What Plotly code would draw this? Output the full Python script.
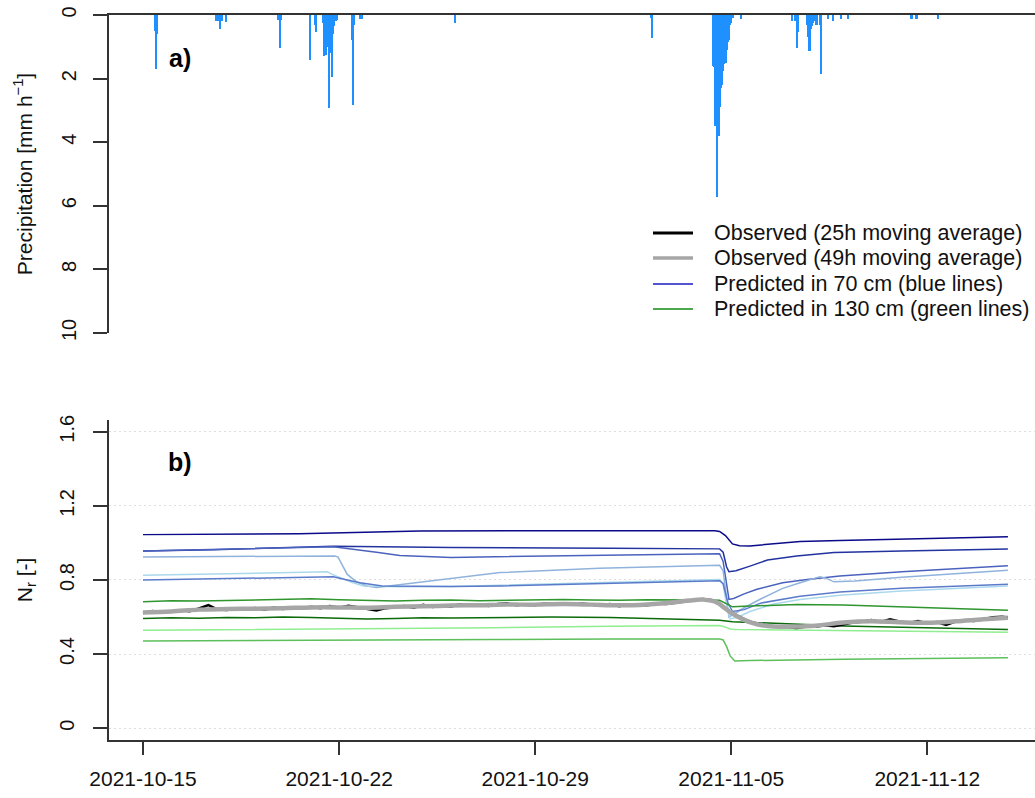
import pandas as pd
import plotly.graph_objects as go

T0 = pd.Timestamp("2021-10-15 00:00")

# ---------------- data (hours since 2021-10-15 00:00) ----------------
precip_hours = [10, 11, 12, 63, 64, 66, 68, 71, 116, 117, 118, 143, 147, 148,
                154, 155, 156, 157, 158, 159, 160, 161, 162, 163, 164, 165, 166,
                179, 180, 181, 186, 188, 267, 435, 436,
                488, 489, 490, 491, 492, 493, 494, 495, 496, 497, 498, 499, 500,
                501, 502, 503, 504, 505, 512, 556, 559, 560, 561,
                569, 570, 571, 572, 573, 574, 575, 576, 577, 580, 581,
                587, 591, 598, 604, 658, 659, 662, 663, 681]
precip_mm = [0.5, 1.7, 0.6, 0.2, 0.2, 0.43, 0.2, 0.22, 0.15, 1.03, 0.15, 1.43, 0.3, 0.55,
             0.25, 1.3, 1.0, 1.25, 1.0, 2.93, 1.2, 0.8, 1.94, 0.6, 0.35, 0.2, 0.15,
             0.8, 2.84, 0.3, 0.12, 0.12, 0.25, 0.1, 0.72,
             1.6, 1.65, 3.5, 3.5, 5.72, 3.8, 2.9, 2.3, 2.2, 1.75, 1.55, 1.5, 1.1,
             0.85, 0.8, 0.3, 0.25, 0.1, 0.12, 0.2, 0.2, 1.04, 0.52,
             0.3, 0.7, 1.14, 0.45, 0.35, 0.25, 0.2, 0.2, 0.3, 0.3, 1.84,
             0.12, 0.2, 0.12, 0.12, 0.12, 0.12, 0.12, 0.12, 0.12]

obs25_hours = list(range(0, 737, 8)) + [741]
obs25_vals = [0.622, 0.632, 0.626, 0.628, 0.637, 0.631, 0.646, 0.664, 0.640,
              0.638, 0.647, 0.641, 0.649, 0.640, 0.651, 0.644, 0.653, 0.646,
              0.656, 0.648, 0.659, 0.650, 0.661, 0.652, 0.646, 0.635, 0.648,
              0.653, 0.660, 0.650, 0.666, 0.654, 0.661, 0.657, 0.669, 0.662,
              0.667, 0.660, 0.671, 0.673, 0.664, 0.669, 0.664, 0.673, 0.668,
              0.675, 0.666, 0.673, 0.668, 0.661, 0.670, 0.659, 0.667, 0.662,
              0.664, 0.673, 0.670, 0.677, 0.685, 0.689, 0.697, 0.691, 0.662,
              0.624, 0.598, 0.574, 0.563, 0.553, 0.548, 0.545, 0.541, 0.549,
              0.547, 0.555, 0.550, 0.560, 0.571, 0.575, 0.584, 0.573, 0.588,
              0.576, 0.568, 0.579, 0.565, 0.573, 0.557, 0.575, 0.583, 0.578,
              0.590, 0.599, 0.602, 0.597]

obs49_hours = [0, 24, 48, 72, 96, 120, 144, 168, 192, 216, 240, 264, 288, 312, 336,
               360, 384, 408, 432, 456, 468, 480, 492, 498, 504, 510, 516, 522, 528,
               540, 552, 576, 600, 624, 648, 672, 696, 720, 741]
obs49_vals = [0.625, 0.630, 0.640, 0.643, 0.645, 0.648, 0.652, 0.652, 0.650, 0.655,
              0.658, 0.662, 0.664, 0.667, 0.667, 0.670, 0.667, 0.663, 0.668, 0.680,
              0.689, 0.694, 0.678, 0.650, 0.622, 0.600, 0.582, 0.568, 0.558,
              0.549, 0.547, 0.553, 0.570, 0.577, 0.572, 0.569, 0.577, 0.588, 0.596]

# predicted in 70 cm (blue lines)
b1_h = [0, 134, 237, 400, 490, 494, 499, 505, 511, 520, 563, 597, 650, 700, 741]
b1_v = [1.045, 1.050, 1.065, 1.066, 1.066, 1.062, 1.040, 0.995, 0.985, 0.984, 1.008, 1.013, 1.020, 1.027, 1.034]
b2_h = [0, 60, 163, 264, 400, 494, 497, 500, 502, 508, 520, 535, 560, 592, 650, 741]
b2_v = [0.957, 0.963, 0.982, 0.975, 0.972, 0.968, 0.950, 0.870, 0.845, 0.850, 0.875, 0.908, 0.930, 0.948, 0.956, 0.967]
b3_h = [0, 163, 200, 220, 264, 306, 391, 494, 497, 500, 502, 506, 515, 526, 548, 569, 597, 650, 741]
b3_v = [0.957, 0.980, 0.950, 0.932, 0.922, 0.925, 0.935, 0.942, 0.900, 0.760, 0.695, 0.700, 0.725, 0.750, 0.785, 0.803, 0.822, 0.845, 0.877]
b4_h = [0, 100, 164, 167, 170, 175, 183, 192, 200, 220, 264, 306, 391, 470, 494, 497, 500, 502,
        506, 515, 530, 548, 563, 580, 585, 592, 610, 650, 741]
b4_v = [0.924, 0.926, 0.930, 0.925, 0.890, 0.830, 0.790, 0.768, 0.760, 0.775, 0.810, 0.840, 0.864, 0.877, 0.879, 0.850, 0.700, 0.600,
        0.615, 0.650, 0.700, 0.755, 0.785, 0.818, 0.810, 0.790, 0.795, 0.815, 0.853]
b5_h = [0, 100, 158, 162, 168, 180, 189, 220, 264, 306, 391, 470, 494, 497, 500, 503, 510, 520, 540, 563, 597, 650, 741]
b5_v = [0.826, 0.835, 0.844, 0.830, 0.815, 0.785, 0.768, 0.763, 0.765, 0.772, 0.785, 0.800, 0.802, 0.780, 0.660, 0.590, 0.600, 0.630, 0.670, 0.695, 0.718, 0.740, 0.768]
b6_h = [0, 100, 163, 175, 186, 205, 264, 306, 391, 470, 494, 497, 501, 505, 515, 529, 563, 597, 650, 741]
b6_v = [0.800, 0.808, 0.817, 0.800, 0.785, 0.768, 0.765, 0.768, 0.780, 0.793, 0.796, 0.780, 0.680, 0.630, 0.640, 0.675, 0.712, 0.735, 0.755, 0.777]

# predicted in 130 cm (green lines)
g1_h = [0, 24, 48, 72, 96, 120, 144, 168, 192, 216, 240, 264, 288, 312, 336, 360, 384, 408, 432,
        456, 480, 494, 500, 505, 515, 530, 560, 600, 650, 700, 741]
g1_v = [0.683, 0.688, 0.686, 0.690, 0.692, 0.697, 0.699, 0.693, 0.688, 0.686, 0.690, 0.692, 0.688, 0.690, 0.693, 0.695, 0.692, 0.690, 0.693,
        0.694, 0.692, 0.690, 0.670, 0.655, 0.658, 0.662, 0.668, 0.665, 0.655, 0.645, 0.636]
g2_h = [0, 24, 48, 72, 96, 120, 144, 168, 192, 216, 240, 264, 300, 350, 400, 450, 494, 505, 530, 560, 600, 650, 700, 741]
g2_v = [0.592, 0.596, 0.594, 0.598, 0.596, 0.600, 0.598, 0.593, 0.590, 0.592, 0.596, 0.595, 0.598, 0.600, 0.598, 0.590, 0.582, 0.575, 0.568, 0.560, 0.552, 0.545, 0.538, 0.533]
g3_h = [0, 100, 200, 300, 400, 494, 498, 503, 510, 550, 650, 741]
g3_v = [0.529, 0.533, 0.538, 0.542, 0.550, 0.554, 0.548, 0.535, 0.532, 0.530, 0.524, 0.518]
g4_h = [0, 100, 200, 300, 400, 494, 497, 500, 503, 507, 520, 600, 741]
g4_v = [0.470, 0.474, 0.478, 0.479, 0.481, 0.482, 0.476, 0.440, 0.390, 0.362, 0.365, 0.372, 0.380]

tick_hours = [0, 168, 336, 504, 672]
tick_labels = ["2021-10-15", "2021-10-22", "2021-10-29", "2021-11-05", "2021-11-12"]

legend_names = ["Observed (25h moving average)", "Observed (49h moving average)",
                "Predicted in 70 cm (blue lines)", "Predicted in 130 cm (green lines)"]


def ts(hours):
    return [T0 + pd.Timedelta(hours=h) for h in hours]


# plot area in page pixels: x 109..1035, y 15..740
PX_L, PX_R, PX_T, PX_B = 109.0, 1035.0, 15.0, 740.0


def px(x):
    return (x - PX_L) / (PX_R - PX_L)


def py(y):
    return (PX_B - y) / (PX_B - PX_T)


FONT = "Liberation Sans, Arial, Helvetica, sans-serif"
AX = "#333333"

fig = go.Figure()

# precipitation bars (top panel)
fig.add_trace(go.Bar(x=ts(precip_hours), y=precip_mm, width=1.8 * 3600 * 1000,
                     marker=dict(color="#1E90FF", line=dict(width=0)),
                     xaxis="x2", yaxis="y2", showlegend=False, hoverinfo="x+y"))

blue_series = [(b1_h, b1_v, "#0a0a8a"), (b2_h, b2_v, "#2233a0"), (b3_h, b3_v, "#4a62bd"),
               (b4_h, b4_v, "#8fb3dc"), (b5_h, b5_v, "#aad8ec"), (b6_h, b6_v, "#5b7bca")]
green_series = [(g1_h, g1_v, "#2f962f"), (g2_h, g2_v, "#0b6b0b"),
                (g3_h, g3_v, "#90ee90"), (g4_h, g4_v, "#5cbf5c")]
for h, v, c in blue_series + green_series:
    fig.add_trace(go.Scatter(x=ts(h), y=v, mode="lines", line=dict(color=c, width=1.5),
                             showlegend=False, xaxis="x", yaxis="y"))

fig.add_trace(go.Scatter(x=ts(obs25_hours), y=obs25_vals, mode="lines",
                         name=legend_names[0],
                         line=dict(color="black", width=2.5), showlegend=False))
fig.add_trace(go.Scatter(x=ts(obs49_hours), y=obs49_vals, mode="lines",
                         name=legend_names[1],
                         line=dict(color="#a6a6a6", width=4.5, shape="spline"), showlegend=False))

# legend drawn as key lines + labels (R-style legend without border)
leg_styles = [("black", 3), ("#a6a6a6", 3.5), ("#1a1ac0", 1.3), ("#138a13", 1.3)]
leg_rows = [233, 258, 284, 309]
shapes = []
annotations = []
for name, (c, w), ry in zip(legend_names, leg_styles, leg_rows):
    shapes.append(dict(type="line", xref="paper", yref="paper",
                       x0=px(653), x1=px(693), y0=py(ry), y1=py(ry),
                       line=dict(color=c, width=w)))
    annotations.append(dict(text=name, xref="paper", yref="paper", x=px(712), y=py(ry),
                            xanchor="left", yanchor="middle", showarrow=False,
                            font=dict(size=21.5, color="#111111")))

annotations.append(dict(text="<b>a)</b>", x=px(180), y=py(58), xref="paper", yref="paper",
                        xanchor="center", yanchor="middle", showarrow=False,
                        font=dict(size=25, color="black")))
annotations.append(dict(text="<b>b)</b>", x=px(180), y=py(462), xref="paper", yref="paper",
                        xanchor="center", yanchor="middle", showarrow=False,
                        font=dict(size=25, color="black")))

xr = [T0 - pd.Timedelta(hours=29.13), T0 + pd.Timedelta(hours=764.2)]

fig.update_layout(
    width=1035, height=798,
    margin=dict(l=109, r=0, t=15, b=58, autoexpand=False),
    paper_bgcolor="white", plot_bgcolor="white",
    font=dict(family=FONT, size=20, color="#111111"),
    bargap=0,
    showlegend=False,
    xaxis=dict(domain=[0, 1], anchor="y", type="date", range=xr,
               tickvals=ts(tick_hours), ticktext=tick_labels,
               ticks="outside", ticklen=13, tickwidth=1.5, tickcolor=AX,
               showline=True, linecolor=AX, linewidth=1.5, ticklabelstandoff=6,
               showgrid=False, zeroline=False, tickfont=dict(size=21),
               ticklabeloverflow="allow"),
    yaxis=dict(domain=[0, 0.4414], anchor="x", range=[-0.064, 1.664],
               tickvals=[0, 0.4, 0.8, 1.2, 1.6], ticktext=["0", "0.4", "0.8", "1.2", "1.6"],
               tickangle=-90, ticks="outside", ticklen=14, tickwidth=1.5, tickcolor=AX,
               showline=True, linecolor=AX, linewidth=1.5,
               showgrid=True, gridcolor="#dedede", griddash="2px,3px", gridwidth=1,
               zeroline=False, tickfont=dict(size=20), ticklabelstandoff=11,
               ticklabeloverflow="allow",
               title=dict(text="N<sub>r</sub> [-]", standoff=18, font=dict(size=21))),
    xaxis2=dict(domain=[0, 1], anchor="y2", type="date", range=xr, side="top",
                showline=True, linecolor=AX, linewidth=1.5, ticks="",
                showticklabels=False, showgrid=False, zeroline=False),
    yaxis2=dict(domain=[0.5614, 1], anchor="x2", range=[10, 0],
                tickvals=[0, 2, 4, 6, 8, 10], ticktext=["0", "2", "4", "6", "8", "10"],
                tickangle=-90, ticks="outside", ticklen=14, tickwidth=1.5, tickcolor=AX,
                showline=True, linecolor=AX, linewidth=1.5,
                showgrid=False, zeroline=False, tickfont=dict(size=20), ticklabelstandoff=9,
                ticklabeloverflow="allow",
                title=dict(text="Precipitation [mm h<sup>\u22121</sup>]", standoff=20,
                           font=dict(size=21))),
    shapes=shapes,
    annotations=annotations,
)

fig.write_html("out.html", config={"displayModeBar": False},
               post_script="document.body.style.margin='0';document.body.style.overflow='hidden';")
